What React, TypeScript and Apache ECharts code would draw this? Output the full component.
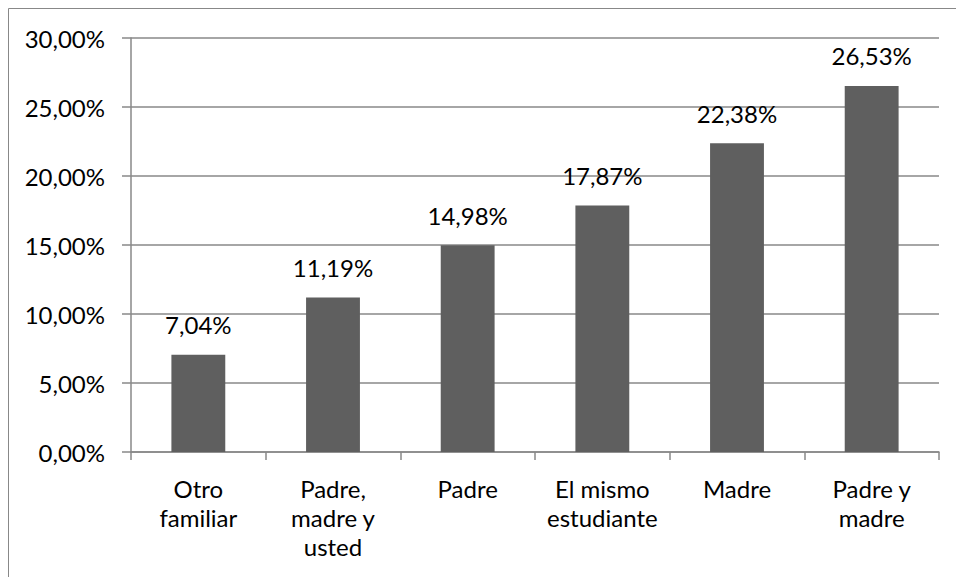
import React, { useEffect, useRef } from "react";
import * as echarts from "echarts";

const categories = [
  "Otro\nfamiliar",
  "Padre,\nmadre y\nusted",
  "Padre",
  "El mismo\nestudiante",
  "Madre",
  "Padre y\nmadre",
];
const values = [7.04, 11.19, 14.98, 17.87, 22.38, 26.53];
const yMin = 0;
const yMax = 30;
const yInterval = 5;

const fmt = (v: number) => v.toFixed(2).replace(".", ",") + "%";

export default function App() {
  const ref = useRef<HTMLDivElement>(null);
  useEffect(() => {
    if (!ref.current) return;
    const chart = echarts.init(ref.current, undefined, { renderer: "svg" });
    const font = "Lato";
    const gray = "#888888";
    chart.setOption({
      animation: false,
      backgroundColor: "#ffffff",
      textStyle: { fontFamily: font },
      graphic: [
        {
          type: "rect",
          shape: { x: 8.5, y: 8.5, width: 1200, height: 1200 },
          style: { fill: "none", stroke: gray, lineWidth: 1 },
          silent: true,
        },
      ],
      grid: { left: 131, right: 17, top: 38, bottom: 125, containLabel: false },
      xAxis: {
        type: "category",
        data: categories,
        axisLine: { show: true, lineStyle: { color: gray, width: 1.5 } },
        axisTick: { show: true, length: 8, lineStyle: { color: gray, width: 1.5 } },
        axisLabel: {
          color: "#000000",
          fontFamily: font,
          fontSize: 24,
          lineHeight: 29,
          margin: 22,
          interval: 0,
        },
      },
      yAxis: {
        type: "value",
        min: yMin,
        max: yMax,
        interval: yInterval,
        axisLine: { show: true, lineStyle: { color: gray, width: 1.5 } },
        axisTick: { show: true, length: 9, lineStyle: { color: gray, width: 1.5 } },
        splitLine: { show: true, lineStyle: { color: gray, width: 1.5 } },
        axisLabel: {
          color: "#000000",
          fontFamily: font,
          fontSize: 24,
          margin: 26,
          formatter: (v: number) => fmt(v),
        },
      },
      series: [
        {
          type: "bar",
          data: values,
          barWidth: "40%",
          itemStyle: { color: "#5f5f5f" },
          label: {
            show: true,
            position: "top",
            distance: 18,
            color: "#000000",
            fontFamily: font,
            fontSize: 24,
            formatter: (p: any) => fmt(p.value),
          },
        },
      ],
    });
    return () => chart.dispose();
  }, []);
  return (
    <div
      ref={ref}
      style={{ position: "fixed", left: 0, top: 0, width: 956, height: 577 }}
    />
  );
}
